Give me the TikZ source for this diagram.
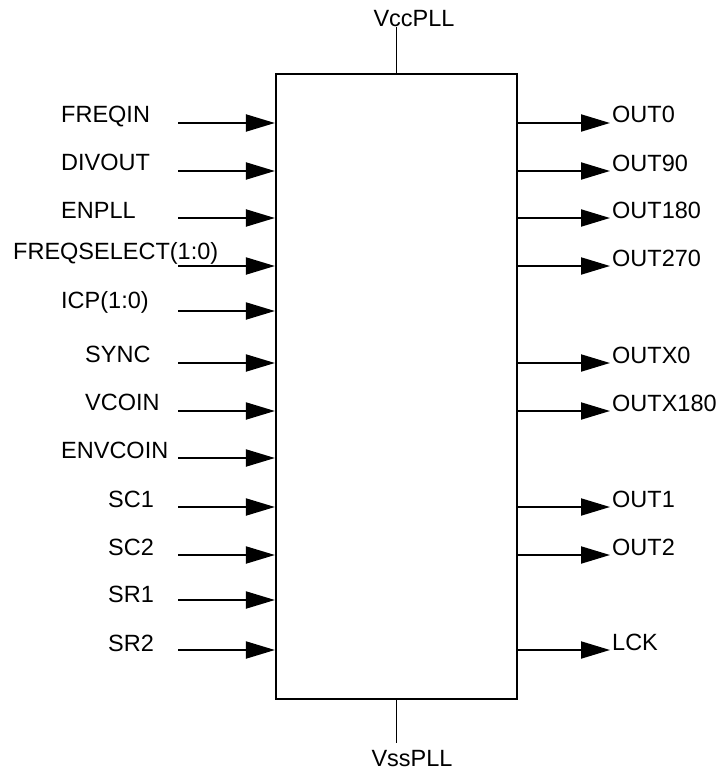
\documentclass[tikz,border=0pt]{standalone}
\usepackage{fontspec}
\setmainfont{Liberation Sans}
\usetikzlibrary{arrows.meta}
\begin{document}
\begin{tikzpicture}[x=1pt,y=-1pt,
  lbl/.style={inner sep=0pt, font=\fontsize{23.5}{28}\selectfont},
  sig/.style={line width=2pt, -{Triangle[length=29pt,width=17pt]}},
  pwr/.style={line width=1.6pt},
  blk/.style={draw, line width=2.2pt, minimum width=241pt, minimum height=625pt, inner sep=0pt}]
\useasboundingbox (0,0) rectangle (721,773);
\node[blk] (pll) at (396.5,386.5) {};
% inputs: id / text / arrow y / label x / label baseline
\foreach \n/\t/\y/\lx/\by in {
  a/FREQIN/123/61/123,
  b/DIVOUT/171/61/170,
  c/ENPLL/218/61/218,
  d/FREQSELECT(1:0)/266/13/259,
  e/ICP(1:0)/311/61/308,
  f/SYNC/363/85/362,
  g/VCOIN/411/85/410,
  h/ENVCOIN/458/61/458,
  i/SC1/507/108/507,
  j/SC2/555/108/555,
  k/SR1/600/108/602,
  l/SR2/650/108/651}{
  \coordinate (in\n) at (178,\y);
  \node[lbl, anchor=base west] (lin\n) at (\lx,\by) {\t};
  \draw[sig] (in\n) -- (pll.west |- in\n);
}
% outputs
\foreach \n/\t/\y in {
  a/OUT0/123,
  b/OUT90/171,
  c/OUT180/218,
  d/OUT270/266,
  e/OUTX0/363,
  f/OUTX180/411,
  g/OUT1/507,
  h/OUT2/555,
  i/LCK/650}{
  \coordinate (out\n) at (610,\y);
  \draw[sig] (pll.east |- out\n) -- (out\n);
  \node[lbl, anchor=base west] (lout\n) at (612,\y) {\t};
}
% supplies
\node[lbl, anchor=base] (vcc) at (414,27) {VccPLL};
\draw[pwr] (pll.north) -- (pll.north |- vcc.base);
\node[lbl, anchor=base] (vss) at (412,766) {VssPLL};
\coordinate (vssend) at (396.5,743);
\draw[pwr] (pll.south) -- (vssend);
\end{tikzpicture}
\end{document}
